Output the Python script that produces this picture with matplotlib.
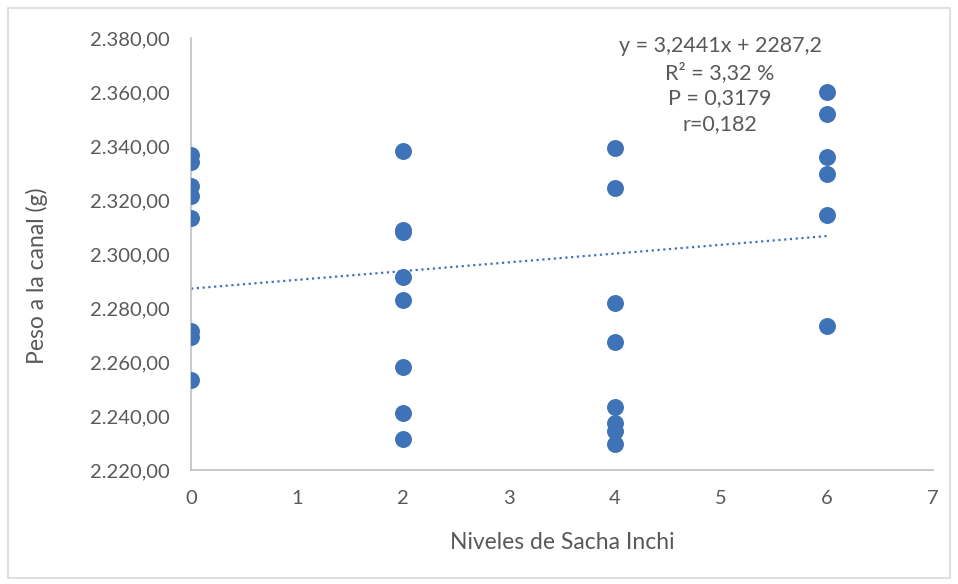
import numpy as np
import matplotlib.pyplot as plt
from matplotlib.ticker import FuncFormatter, MultipleLocator
from matplotlib.patches import Rectangle

# datos
niveles = [0, 0, 0, 0, 0, 0, 0, 0,
           2, 2, 2, 2, 2, 2, 2, 2,
           4, 4, 4, 4, 4, 4, 4, 4,
           6, 6, 6, 6, 6, 6]
peso = [2336.7, 2334.1, 2325.2, 2321.5, 2313.3, 2271.5, 2269.3, 2253.3,
        2338.0, 2309.0, 2308.0, 2291.5, 2283.0, 2258.0, 2241.0, 2231.5,
        2339.3, 2324.4, 2281.9, 2267.4, 2243.3, 2237.4, 2234.5, 2229.5,
        2360.0, 2351.9, 2336.0, 2329.8, 2314.6, 2273.2]

# línea de tendencia (ecuación del gráfico)
pendiente = 3.2441
intercepto = 2287.2
texto_ec = ['y = 3,2441x + 2287,2', 'R² = 3,32 %', 'P = 0,3179', 'r=0,182']

azul = '#3F73B8'
gris = '#595959'
plt.rcParams['font.family'] = ['Lato', 'DejaVu Sans']

fig = plt.figure(figsize=(9.58, 5.84), dpi=100)
ax = fig.add_axes([0.1994, 0.195, 0.7746, 0.740])

# marco exterior
fig.patches.append(Rectangle((8 / 958, 6 / 584), 942 / 958, 570 / 584,
                             transform=fig.transFigure, fill=False,
                             edgecolor='#d9d9d9', lw=1.2))

ax.scatter(niveles, peso, s=125, color=azul, zorder=3)

xt = np.array([0, 6])
ax.plot(xt, pendiente * xt + intercepto, linestyle=(0, (1, 1.6)),
        color=azul, lw=1.6)

ax.set_xlim(0, 7)
ax.set_ylim(2220, 2380)
ax.xaxis.set_major_locator(MultipleLocator(1))
ax.yaxis.set_major_locator(MultipleLocator(20))


def fmt(v, pos):
    s = f'{v:,.2f}'
    return s.replace(',', 'X').replace('.', ',').replace('X', '.')


ax.yaxis.set_major_formatter(FuncFormatter(fmt))
for s in ['top', 'right']:
    ax.spines[s].set_visible(False)
for s in ['left', 'bottom']:
    ax.spines[s].set_color('#bfbfbf')
    ax.spines[s].set_linewidth(1.2)
ax.tick_params(length=0, labelsize=14.5, colors=gris)
ax.tick_params(axis='y', pad=15)
ax.tick_params(axis='x', pad=14)

ax.set_xlabel('Niveles de Sacha Inchi', fontsize=16.5, color=gris)
ax.set_ylabel('Peso a la canal (g)', fontsize=16.5, color=gris)
ax.xaxis.set_label_coords(0.5, -0.167)
ax.yaxis.set_label_coords(-0.2075, 0.45)
ax.xaxis.label.set_va('center')
ax.yaxis.label.set_va('center')

ax.text(0.713, 1.005, '\n'.join(texto_ec), transform=ax.transAxes,
        ha='center', va='top', fontsize=15.5, color=gris, linespacing=1.35)

fig.savefig('out.png', dpi=100)
